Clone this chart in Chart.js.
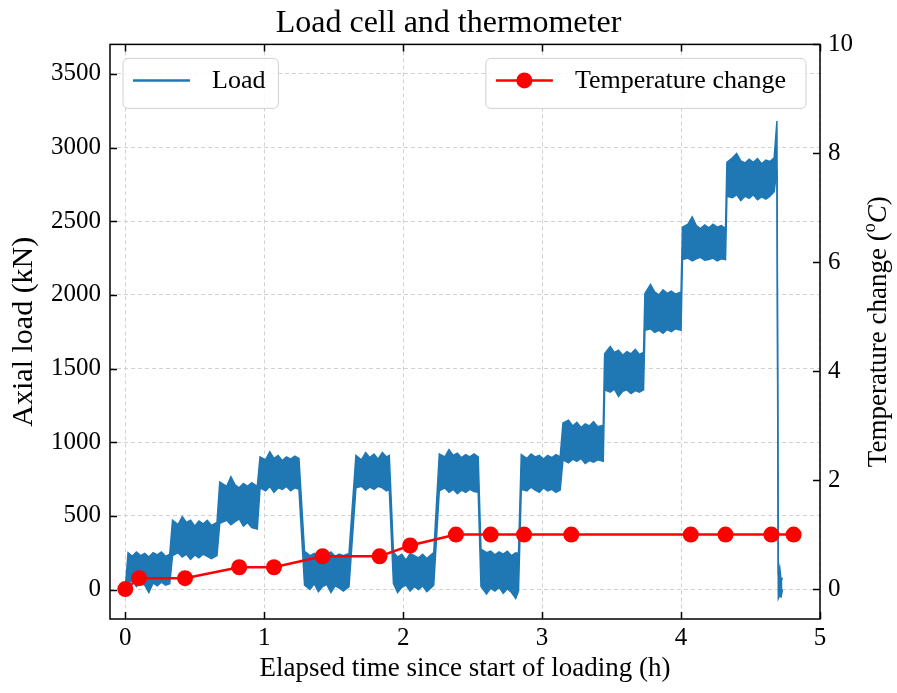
<!DOCTYPE html>
<html>
<head>
<meta charset="utf-8">
<title>Load cell and thermometer</title>
<script src="https://cdn.jsdelivr.net/npm/chart.js@4.4.1/dist/chart.umd.min.js"></script>
<style>
  html, body { margin: 0; padding: 0; background: #fff; }
  #chart { display: block; }
</style>
</head>
<body>
<canvas id="chart" width="897" height="693"></canvas>
<script>
// tick values
const xTicks = [0, 1, 2, 3, 4, 5];
const loadTicks = [0, 500, 1000, 1500, 2000, 2500, 3000, 3500];
const tempTicks = [0, 2, 4, 6, 8, 10];

// thermometer readings (h, degC)
const tempTime = [0, 0.10, 0.43, 0.82, 1.07, 1.42, 1.83, 2.05, 2.38, 2.63, 2.87, 3.21, 4.07, 4.32, 4.65, 4.81];
const tempChange = [0, 0.2, 0.2, 0.4, 0.4, 0.6, 0.6, 0.8, 1, 1, 1, 1, 1, 1, 1, 1];

// load cell signal, read as upper and lower edge of the noise band (kN)
const loadTime = [
  0.00,
  0.02, 0.05, 0.08, 0.11, 0.14, 0.17, 0.20, 0.23, 0.26, 0.29, 0.32,
  0.34, 0.38, 0.41, 0.44, 0.47, 0.50, 0.53, 0.56, 0.59, 0.62, 0.66,
  0.68, 0.73, 0.76, 0.79, 0.82, 0.85, 0.88, 0.91, 0.95,
  0.97, 1.01, 1.04, 1.07, 1.10, 1.13, 1.16, 1.19, 1.22, 1.25,
  1.29, 1.33, 1.36, 1.39, 1.42, 1.45, 1.48, 1.51, 1.54, 1.57, 1.61,
  1.66, 1.70, 1.73, 1.76, 1.79, 1.82, 1.85, 1.88, 1.90,
  1.93, 1.96, 1.99, 2.02, 2.05, 2.08, 2.11, 2.14, 2.17, 2.20, 2.22,
  2.26, 2.30, 2.33, 2.36, 2.39, 2.42, 2.45, 2.48, 2.51, 2.54,
  2.56, 2.60, 2.63, 2.66, 2.69, 2.72, 2.75, 2.78, 2.81, 2.83,
  2.85, 2.89, 2.92, 2.95, 2.98, 3.01, 3.04, 3.07, 3.10, 3.13,
  3.15, 3.19, 3.22, 3.25, 3.28, 3.31, 3.34, 3.37, 3.40, 3.44,
  3.45, 3.49, 3.52, 3.55, 3.58, 3.61, 3.64, 3.67, 3.70, 3.73,
  3.74, 3.78, 3.81, 3.84, 3.87, 3.90, 3.93, 3.96, 4.00,
  4.01, 4.05, 4.08, 4.11, 4.14, 4.17, 4.20, 4.23, 4.26, 4.29, 4.32,
  4.33, 4.37, 4.40, 4.43, 4.46, 4.49, 4.52, 4.55, 4.58, 4.61, 4.64, 4.67,
  4.69, 4.70, 4.71, 4.72, 4.73
];
const loadHigh = [
  10,
  250, 225, 255, 230, 245, 220, 250, 235, 255, 225, 240,
  470, 440, 495, 455, 470, 430, 465, 445, 470, 435, 455,
  730, 700, 765, 710, 690, 720, 700, 725, 700,
  900, 880, 935, 890, 910, 875, 900, 885, 905, 890,
  260, 230, 245, 215, 250, 235, 255, 225, 240, 230, 245,
  910, 880, 930, 895, 920, 885, 930, 900, 910,
  255, 220, 240, 200, 245, 230, 215, 240, 210, 235, 250,
  920, 900, 950, 910, 925, 895, 915, 900, 920, 900,
  275, 250, 260, 235, 255, 240, 260, 230, 250, 245,
  915, 890, 920, 900, 910, 885, 910, 895, 915, 900,
  1130, 1150, 1110, 1135, 1100, 1125, 1110, 1140, 1105, 1115,
  1600, 1650, 1610, 1625, 1590, 1615, 1600, 1630, 1595, 1610,
  2010, 2070, 2020, 2000, 2035, 2010, 2025, 2005, 2020,
  2460, 2480, 2530, 2470, 2450, 2475, 2455, 2480, 2460, 2470, 2450,
  2900, 2930, 2960, 2910, 2895, 2920, 2900, 2925, 2890, 2915, 2905, 2930,
  3180, 100, 150, 60, 80
];
const loadLow = [
  -10,
  40, 60, 20, 50, 30, -20, 45, 25, 50, 30, 40,
  230, 250, 220, 240, 205, 235, 215, 240, 225, 210, 230,
  450, 470, 440, 460, 480, 430, 455, 420, 410,
  690, 670, 700, 660, 690, 680, 700, 670, 690, 680,
  30, 0, 40, -15, 20, 35, -20, 25, 10, -10, 20,
  690, 700, 675, 695, 680, 700, 690, 670, 680,
  40, -20, 15, 30, -10, 20, 0, 25, -15, 10, 30,
  670, 690, 660, 680, 650, 675, 660, 680, 665, 660,
  20, -30, 10, -10, 15, -25, 5, -20, -60, -10,
  680, 670, 695, 675, 660, 690, 670, 680, 660, 675,
  880, 860, 885, 870, 890, 855, 875, 865, 880, 870,
  1355, 1340, 1360, 1310, 1345, 1355, 1330, 1350, 1340, 1355,
  1760, 1770, 1745, 1760, 1740, 1765, 1750, 1770, 1760,
  2240, 2250, 2230, 2245, 2255, 2235, 2240, 2250, 2230, 2245, 2240,
  2670, 2660, 2680, 2640, 2670, 2655, 2680, 2645, 2665, 2650, 2670, 2700,
  2850, -60, -40, -50, 0
];

const FONT = '"Liberation Serif", "Times New Roman", serif';
const LOAD_COLOR = '#1f77b4';
const TEMP_COLOR = '#ff0000';

Chart.defaults.font.family = FONT;
Chart.defaults.color = '#000';

function pts(xs, ys) {
  return xs.map((x, i) => ({ x: x, y: ys[i] }));
}

// frame, inward ticks, legends and the right axis label
const decorations = {
  id: 'decorations',
  afterDraw(chart) {
    const ctx = chart.ctx;
    const a = chart.chartArea;
    const sx = chart.scales.x, sy = chart.scales.y, sy2 = chart.scales.y2;
    const tl = 7;

    ctx.save();
    ctx.strokeStyle = '#000';
    ctx.lineWidth = 1.5;
    ctx.beginPath();
    xTicks.forEach(v => {
      const px = Math.round(sx.getPixelForValue(v)) + 0.5;
      ctx.moveTo(px, a.bottom); ctx.lineTo(px, a.bottom - tl);
      ctx.moveTo(px, a.top); ctx.lineTo(px, a.top + tl);
    });
    loadTicks.forEach(v => {
      const py = Math.round(sy.getPixelForValue(v)) + 0.5;
      ctx.moveTo(a.left, py); ctx.lineTo(a.left + tl, py);
    });
    tempTicks.forEach(v => {
      const py = Math.round(sy2.getPixelForValue(v)) + 0.5;
      ctx.moveTo(a.right, py); ctx.lineTo(a.right - tl, py);
    });
    ctx.stroke();
    ctx.strokeRect(a.left, a.top, a.right - a.left, a.bottom - a.top);

    // legends
    ctx.font = '26px ' + FONT;
    const boxTop = a.top + 14, boxH = 50;
    function box(x, w) {
      ctx.beginPath();
      ctx.roundRect(x, boxTop, w, boxH, 5);
      ctx.fillStyle = 'rgba(255,255,255,0.85)';
      ctx.fill();
      ctx.strokeStyle = '#d0d0d0';
      ctx.lineWidth = 1;
      ctx.stroke();
    }
    const midY = boxTop + 22;

    const loadLabel = chart.data.datasets[1].label;
    const lw = ctx.measureText(loadLabel).width;
    const lx = a.left + 13;
    box(lx, 89 + lw + 13);
    ctx.strokeStyle = LOAD_COLOR;
    ctx.lineWidth = 2.5;
    ctx.beginPath();
    ctx.moveTo(lx + 10, midY); ctx.lineTo(lx + 67, midY);
    ctx.stroke();
    ctx.fillStyle = '#000';
    ctx.textBaseline = 'middle';
    ctx.textAlign = 'left';
    ctx.fillText(loadLabel, lx + 89, midY + 1);

    const tempLabel = chart.data.datasets[0].label;
    const tw = ctx.measureText(tempLabel).width;
    const bw = 89 + tw + 20;
    const tx = a.right - 14 - bw;
    box(tx, bw);
    ctx.strokeStyle = TEMP_COLOR;
    ctx.lineWidth = 2.5;
    ctx.beginPath();
    ctx.moveTo(tx + 10, midY); ctx.lineTo(tx + 67, midY);
    ctx.stroke();
    ctx.fillStyle = TEMP_COLOR;
    ctx.beginPath();
    ctx.arc(tx + 38.5, midY, 8, 0, Math.PI * 2);
    ctx.fill();
    ctx.fillStyle = '#000';
    ctx.fillText(tempLabel, tx + 89, midY + 1);

    // right axis title: Temperature change (°C) with superscript o and italic C
    ctx.translate(877, (a.top + a.bottom) / 2);
    ctx.rotate(-Math.PI / 2);
    ctx.textBaseline = 'alphabetic';
    const fMain = '27px ' + FONT, fSup = '18px ' + FONT, fIt = 'italic 27px ' + FONT;
    const parts = [
      { t: 'Temperature change (', f: fMain, dy: 0 },
      { t: 'o', f: fSup, dy: -11 },
      { t: 'C', f: fIt, dy: 0 },
      { t: ')', f: fMain, dy: 0 }
    ];
    let total = 0;
    parts.forEach(p => { ctx.font = p.f; p.w = ctx.measureText(p.t).width; total += p.w; });
    let cx = -total / 2;
    parts.forEach(p => {
      ctx.font = p.f;
      ctx.fillText(p.t, cx, 9 + p.dy);
      cx += p.w;
    });
    ctx.restore();
  }
};

const plain = v => String(v);

const ctx = document.getElementById('chart').getContext('2d');
const chart = new Chart(ctx, {
  type: 'line',
  data: {
    datasets: [
      {
        label: 'Temperature change',
        data: pts(tempTime, tempChange),
        yAxisID: 'y2',
        borderColor: TEMP_COLOR,
        backgroundColor: TEMP_COLOR,
        borderWidth: 2.5,
        pointRadius: 8,
        pointBorderWidth: 0,
        pointBackgroundColor: TEMP_COLOR,
        fill: false,
        order: 0
      },
      {
        label: 'Load',
        data: pts(loadTime, loadHigh),
        yAxisID: 'y',
        borderColor: LOAD_COLOR,
        backgroundColor: LOAD_COLOR,
        borderWidth: 1.5,
        pointRadius: 0,
        fill: '+1',
        order: 1
      },
      {
        label: 'Load (lower)',
        data: pts(loadTime, loadLow),
        yAxisID: 'y',
        borderColor: LOAD_COLOR,
        borderWidth: 1.5,
        pointRadius: 0,
        fill: false,
        order: 2
      }
    ]
  },
  options: {
    responsive: false,
    animation: false,
    events: [],
    layout: { padding: 0 },
    plugins: {
      legend: { display: false },
      tooltip: { enabled: false },
      title: {
        display: true,
        text: 'Load cell and thermometer',
        color: '#000',
        font: { size: 32, weight: 'normal', lineHeight: 1.2 },
        padding: { top: 4, bottom: 2 }
      }
    },
    scales: {
      x: {
        type: 'linear',
        min: -0.11,
        max: 5,
        afterBuildTicks: s => { s.ticks = xTicks.map(v => ({ value: v })); },
        afterFit: s => { s.height = 74; },
        ticks: { font: { size: 25 }, padding: 4, autoSkip: false, maxRotation: 0, callback: plain },
        grid: { color: '#d2d2d2', lineWidth: 1, drawTicks: false },
        border: { display: false, dash: [4, 3] },
        title: {
          display: true,
          text: 'Elapsed time since start of loading (h)',
          font: { size: 27, lineHeight: 1.2 },
          padding: { top: 0, bottom: 8 }
        }
      },
      y: {
        type: 'linear',
        position: 'left',
        min: -200,
        max: 3700,
        afterBuildTicks: s => { s.ticks = loadTicks.map(v => ({ value: v })); },
        afterFit: s => { s.width = 110; },
        ticks: { font: { size: 25 }, padding: 9, autoSkip: false, callback: plain },
        grid: { color: '#d2d2d2', lineWidth: 1, drawTicks: false },
        border: { display: false, dash: [4, 3] },
        title: {
          display: true,
          text: 'Axial load (kN)',
          font: { size: 30, lineHeight: 1.2 },
          padding: { top: 6, bottom: 0 }
        }
      },
      y2: {
        type: 'linear',
        position: 'right',
        min: -0.55,
        max: 10,
        afterBuildTicks: s => { s.ticks = tempTicks.map(v => ({ value: v })); },
        afterFit: s => { s.width = 77; },
        ticks: { font: { size: 25 }, padding: 8, autoSkip: false, callback: plain },
        grid: { display: false, drawTicks: false },
        border: { display: false }
      }
    }
  },
  plugins: [decorations]
});
</script>
</body>
</html>
